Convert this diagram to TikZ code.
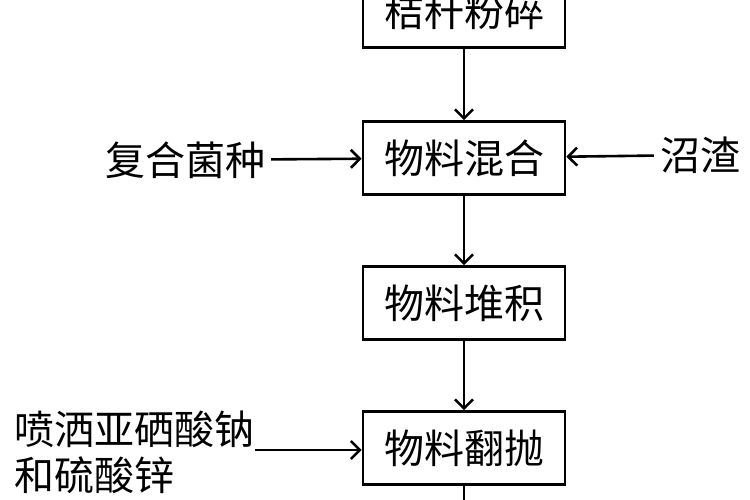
\documentclass[tikz,border=0pt]{standalone}
\usepackage{fontspec}
\setmainfont{Noto Sans CJK SC}
\usetikzlibrary{arrows.meta,positioning}
\begin{document}
\begin{tikzpicture}[x=1pt,y=-1pt,
  stepbox/.style={draw,line width=2.6pt,minimum width=202pt,minimum height=73pt,inner sep=0pt,font=\fontsize{40}{44}\selectfont},
  side/.style={font=\fontsize{40}{46}\selectfont,align=left,inner sep=6pt},
  flow/.style={line width=2.6pt,-{Straight Barb[length=9pt,width=18pt,line width=2.6pt]}}]
  \useasboundingbox (0,0) rectangle (750,500);
  \clip (0,0) rectangle (750,500);
  \node[stepbox](crush)  at (464,11)  {秸秆粉碎};
  \node[stepbox](mix)    at (464,158) {物料混合};
  \node[stepbox](pile)   at (464,303) {物料堆积};
  \node[stepbox](turn)   at (464,448) {物料翻抛};
  \node[side](strain)    at (185,160) {复合菌种};
  \node[side](residue)   at (700,155) {沼渣};
  \node[side,anchor=west,inner sep=0pt](spray) at (14,452) {喷洒亚硒酸钠\\和硫酸锌};
  \coordinate (out) at (464,505);
  \coordinate (sprayend) at (255,450);
  \draw[flow] (crush) -- (mix);
  \draw[flow] (mix) -- (pile);
  \draw[flow] (pile) -- (turn);
  \draw[line width=2.6pt] (turn) -- (out);
  \draw[flow] (strain) -- (mix);
  \draw[flow] (residue) -- (mix);
  \draw[flow] (sprayend) -- (turn.west |- sprayend);
\end{tikzpicture}
\end{document}
